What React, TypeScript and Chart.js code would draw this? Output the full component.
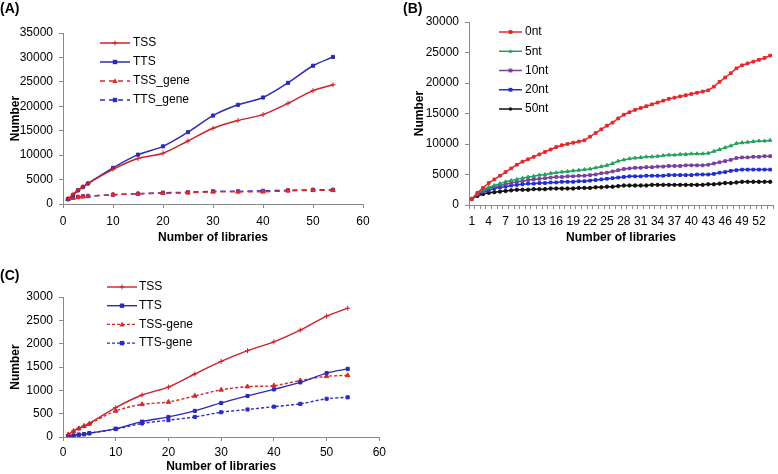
import React, { useEffect, useRef } from 'react';
import { Chart, registerables } from 'chart.js';

Chart.register(...registerables);

const FONT = "'Liberation Sans', Arial, Helvetica, sans-serif";

// ---------- Panel A ----------
const libsA = [1, 2, 3, 4, 5, 10, 15, 20, 25, 30, 35, 40, 45, 50, 54];
const aTSS = [1000, 2000, 2800, 3500, 4200, 7100, 9300, 10400, 12900, 15500, 17100, 18300, 20600, 23200, 24400];
const aTTS = [1000, 1800, 2800, 3500, 4200, 7400, 10100, 11800, 14700, 18100, 20300, 21800, 24800, 28300, 30100];
const aTSSgene = [1000, 1200, 1400, 1500, 1600, 1900, 2100, 2200, 2300, 2500, 2500, 2500, 2700, 2800, 2800];
const aTTSgene = [1000, 1300, 1400, 1600, 1600, 1900, 2100, 2300, 2400, 2600, 2600, 2700, 2800, 2900, 2900];

// ---------- Panel B ----------
const libsB = ['1', '2', '3', '4', '5', '6', '7', '8', '9', '10', '11', '12', '13', '14', '15', '16', '17', '18', '19', '20',
  '21', '22', '23', '24', '25', '26', '27', '28', '29', '30', '31', '32', '33', '34', '35', '36', '37', '38', '39', '40',
  '41', '42', '43', '44', '45', '46', '47', '48', '49', '50', '51', '52', '53', '54'];
const b0nt = [1000, 2000, 2800, 3600, 4200, 4800, 5400, 6000, 6600, 7100, 7500, 7900, 8300, 8700, 9100, 9500, 9800, 10000,
  10200, 10400, 10600, 11200, 11800, 12400, 13000, 13500, 14200, 14800, 15200, 15600, 15900, 16200, 16500, 16800, 17100,
  17400, 17600, 17800, 18000, 18200, 18400, 18600, 18800, 19400, 20200, 20900, 21600, 22400, 22900, 23200, 23500, 23800,
  24100, 24500];
const b5nt = [1000, 1900, 2500, 2900, 3200, 3500, 3800, 4000, 4200, 4400, 4600, 4700, 4900, 5000, 5200, 5300, 5400, 5500,
  5600, 5700, 5800, 5900, 6100, 6300, 6500, 6800, 7200, 7400, 7600, 7700, 7800, 7900, 7900, 8000, 8100, 8200, 8200, 8300,
  8300, 8400, 8400, 8400, 8500, 8800, 9100, 9400, 9700, 10100, 10200, 10300, 10400, 10500, 10500, 10600];
const b10nt = [1000, 1800, 2300, 2700, 3000, 3200, 3400, 3600, 3800, 3900, 4100, 4200, 4300, 4400, 4500, 4600, 4600, 4700,
  4700, 4800, 4800, 4900, 5000, 5200, 5300, 5500, 5700, 5900, 6000, 6100, 6100, 6200, 6200, 6300, 6300, 6400, 6400, 6400,
  6500, 6500, 6500, 6500, 6600, 6800, 7000, 7200, 7400, 7700, 7800, 7800, 7900, 7900, 8000, 8000];
const b20nt = [1000, 1700, 2100, 2400, 2700, 2900, 3000, 3200, 3300, 3400, 3500, 3500, 3600, 3600, 3700, 3700, 3800, 3800,
  3800, 3900, 3900, 4000, 4100, 4200, 4300, 4400, 4500, 4600, 4700, 4700, 4700, 4800, 4800, 4800, 4800, 4900, 4900, 4900,
  4900, 4900, 5000, 5000, 5000, 5100, 5300, 5400, 5600, 5700, 5800, 5800, 5800, 5800, 5800, 5800];
const b50nt = [1000, 1500, 1800, 2000, 2100, 2200, 2300, 2400, 2500, 2500, 2500, 2600, 2600, 2600, 2700, 2700, 2700, 2700,
  2700, 2800, 2800, 2800, 2900, 2900, 3000, 3000, 3100, 3200, 3200, 3200, 3200, 3200, 3300, 3300, 3300, 3300, 3300, 3300,
  3300, 3300, 3300, 3300, 3400, 3400, 3500, 3600, 3600, 3700, 3800, 3800, 3800, 3800, 3800, 3800];

// ---------- Panel C ----------
const libsC = [1, 2, 3, 4, 5, 10, 15, 20, 25, 30, 35, 40, 45, 50, 54];
const cTSS = [50, 130, 190, 240, 290, 630, 900, 1070, 1350, 1620, 1850, 2040, 2290, 2590, 2760];
const cTTS = [10, 30, 50, 60, 80, 180, 330, 430, 560, 730, 880, 1020, 1170, 1370, 1460];
const cTSSgene = [50, 120, 180, 230, 280, 560, 700, 750, 880, 1010, 1080, 1100, 1210, 1300, 1320];
const cTTSgene = [10, 30, 50, 60, 80, 170, 290, 360, 430, 530, 590, 650, 710, 820, 850];

const RED = '#CC2229';
const BLUE = '#2B2BB8';
const AXIS = '#8a8a8a';

function drawMarker(ctx: CanvasRenderingContext2D, style: string, r: number, x: number, y: number, color: string) {
  ctx.save();
  ctx.fillStyle = color;
  ctx.strokeStyle = color;
  ctx.lineWidth = 1;
  ctx.setLineDash([]);
  ctx.beginPath();
  if (style === 'rect') {
    ctx.rect(x - r, y - r, 2 * r, 2 * r);
    ctx.fill();
  } else if (style === 'triangle') {
    ctx.moveTo(x, y - r * 1.1);
    ctx.lineTo(x + r, y + r * 0.8);
    ctx.lineTo(x - r, y + r * 0.8);
    ctx.closePath();
    ctx.fill();
  } else if (style === 'cross') {
    ctx.moveTo(x - r, y);
    ctx.lineTo(x + r, y);
    ctx.moveTo(x, y - r);
    ctx.lineTo(x, y + r);
    ctx.stroke();
  } else {
    ctx.arc(x, y, r, 0, Math.PI * 2);
    ctx.fill();
  }
  ctx.restore();
}

const insideLegend = {
  id: 'insideLegend',
  afterDraw(chart: any, _args: any, opts: any) {
    const { ctx } = chart;
    ctx.save();
    chart.data.datasets.forEach((ds: any, i: number) => {
      const y = opts.y0 + i * opts.dy;
      ctx.strokeStyle = ds.borderColor;
      ctx.lineWidth = ds.borderWidth;
      ctx.setLineDash(ds.borderDash || []);
      ctx.beginPath();
      ctx.moveTo(opts.x1, y);
      ctx.lineTo(opts.x2, y);
      ctx.stroke();
      ctx.setLineDash([]);
      drawMarker(ctx, ds.pointStyle, ds.pointRadius, (opts.x1 + opts.x2) / 2, y, ds.borderColor);
      ctx.fillStyle = '#000';
      ctx.font = `12px ${FONT}`;
      ctx.textBaseline = 'middle';
      ctx.textAlign = 'left';
      ctx.fillText(ds.label, opts.tx, y);
    });
    ctx.restore();
  },
};

function line(label: string, xs: number[] | null, ys: number[], color: string, style: string, r: number, dash: number[], width: number, tension: number) {
  return {
    label,
    data: xs ? ys.map((v, i) => ({ x: xs[i], y: v })) : ys,
    borderColor: color,
    backgroundColor: color,
    pointBackgroundColor: color,
    pointBorderColor: color,
    borderWidth: width,
    borderDash: dash,
    pointStyle: style,
    pointRadius: r,
    pointBorderWidth: 1,
    tension,
    fill: false,
  };
}

const plain = (v: any) => String(v);

function yAxis(max: number, step: number, width: number, titlePad: number) {
  return {
    type: 'linear',
    min: 0,
    max,
    ticks: { stepSize: step, color: '#000', font: { size: 12, family: FONT }, padding: 6, callback: plain },
    grid: { display: true, drawOnChartArea: false, drawTicks: true, tickLength: 4, color: AXIS },
    border: { display: true, color: AXIS, width: 1 },
    title: { display: true, text: 'Number', color: '#000', font: { size: 12, weight: 'bold', family: FONT }, padding: { top: titlePad, bottom: 0 } },
    afterFit: (s: any) => { s.width = width; },
  };
}

function xLinear(height: number, tickPad: number, titlePad: number) {
  return {
    type: 'linear',
    min: 0,
    max: 60,
    ticks: { stepSize: 10, color: '#000', font: { size: 12, family: FONT }, padding: tickPad, maxRotation: 0, callback: plain },
    grid: { display: true, drawOnChartArea: false, drawTicks: true, tickLength: 4, color: AXIS },
    border: { display: true, color: AXIS, width: 1 },
    title: { display: true, text: 'Number of libraries', color: '#000', font: { size: 12, weight: 'bold', family: FONT }, padding: { top: 0, bottom: titlePad } },
    afterFit: (s: any) => { s.height = height; },
  };
}

function useChart(ref: React.RefObject<HTMLCanvasElement>, build: () => any) {
  useEffect(() => {
    if (!ref.current) return;
    const chart = new Chart(ref.current, build());
    return () => chart.destroy();
  }, []);
}

export default function App() {
  const refA = useRef<HTMLCanvasElement>(null);
  const refB = useRef<HTMLCanvasElement>(null);
  const refC = useRef<HTMLCanvasElement>(null);

  useChart(refA, () => ({
    type: 'line',
    data: {
      datasets: [
        line('TSS', libsA, aTSS, RED, 'cross', 2.5, [], 1.5, 0.3),
        line('TTS', libsA, aTTS, BLUE, 'rect', 2.2, [], 1.5, 0.3),
        line('TSS_gene', libsA, aTSSgene, '#DD2A2A', 'triangle', 2.6, [5, 4], 1.5, 0.3),
        line('TTS_gene', libsA, aTTSgene, '#2B2BC8', 'rect', 2.2, [5, 4], 1.5, 0.3),
      ],
    },
    options: {
      animation: false,
      responsive: false,
      layout: { padding: { top: 33, right: 27, left: 0, bottom: 0 } },
      plugins: {
        legend: { display: false },
        tooltip: { enabled: false },
        insideLegend: { x1: 100, x2: 130, tx: 133, y0: 43, dy: 19 },
      },
      scales: {
        x: xLinear(42, 6, 1),
        y: yAxis(35000, 5000, 63, 8),
      },
    },
    plugins: [insideLegend],
  }));

  useChart(refB, () => ({
    type: 'line',
    data: {
      labels: libsB,
      datasets: [
        line('0nt', null, b0nt, '#E8262A', 'rect', 1.9, [], 1.5, 0),
        line('5nt', null, b5nt, '#1FA35B', 'triangle', 2.0, [], 1.5, 0),
        line('10nt', null, b10nt, '#7B3FA0', 'rect', 1.9, [], 1.5, 0),
        line('20nt', null, b20nt, '#1F2FD6', 'rect', 1.9, [], 1.5, 0),
        line('50nt', null, b50nt, '#111111', 'circle', 1.7, [], 1.5, 0),
      ],
    },
    options: {
      animation: false,
      responsive: false,
      layout: { padding: { top: 22, right: 2, left: 0, bottom: 0 } },
      plugins: {
        legend: { display: false },
        tooltip: { enabled: false },
        insideLegend: { x1: 104, x2: 127, tx: 130, y0: 32, dy: 19.25 },
      },
      scales: {
        x: {
          type: 'category',
          offset: true,
          ticks: {
            autoSkip: false,
            maxRotation: 0,
            color: '#000',
            font: { size: 12, family: FONT },
            padding: 5,
            callback: (_v: any, i: number) => (i % 3 === 0 ? libsB[i] : ''),
          },
          grid: { display: true, offset: true, drawOnChartArea: false, drawTicks: true, tickLength: 4, color: AXIS },
          border: { display: true, color: AXIS, width: 1 },
          title: { display: true, text: 'Number of libraries', color: '#000', font: { size: 12, weight: 'bold', family: FONT }, padding: { top: 0, bottom: 1 } },
          afterFit: (s: any) => { s.height = 41; },
        },
        y: yAxis(30000, 5000, 74, 17),
      },
    },
    plugins: [insideLegend],
  }));

  useChart(refC, () => ({
    type: 'line',
    data: {
      datasets: [
        line('TSS', libsC, cTSS, RED, 'cross', 2.5, [], 1.4, 0.3),
        line('TTS', libsC, cTTS, BLUE, 'rect', 2.2, [], 1.4, 0.3),
        line('TSS-gene', libsC, cTSSgene, '#D42A2A', 'triangle', 2.6, [3, 2], 1.4, 0.3),
        line('TTS-gene', libsC, cTTSgene, '#2B2BC8', 'rect', 2.2, [3, 2], 1.4, 0.3),
      ],
    },
    options: {
      animation: false,
      responsive: false,
      layout: { padding: { top: 52, right: 9, left: 0, bottom: 0 } },
      plugins: {
        legend: { display: false },
        tooltip: { enabled: false },
        insideLegend: { x1: 107, x2: 137, tx: 139, y0: 42, dy: 18.7 },
      },
      scales: {
        x: xLinear(37, 4, 0),
        y: yAxis(3000, 500, 63, 8),
      },
    },
    plugins: [insideLegend],
  }));

  const panelLabel: React.CSSProperties = {
    position: 'absolute',
    fontFamily: FONT,
    fontWeight: 'bold',
    fontSize: 14,
    lineHeight: '16px',
    color: '#000',
  };

  return (
    <div style={{ position: 'absolute', left: 0, top: 0, width: 778, height: 474, background: '#fff', overflow: 'hidden' }}>
      <canvas ref={refA} width={390} height={246} style={{ position: 'absolute', left: 0, top: 0 }} />
      <canvas ref={refB} width={383} height={246} style={{ position: 'absolute', left: 395, top: 0 }} />
      <canvas ref={refC} width={390} height={229} style={{ position: 'absolute', left: 0, top: 245 }} />
      <div style={{ ...panelLabel, left: 0, top: 0 }}>(A)</div>
      <div style={{ ...panelLabel, left: 403, top: 0 }}>(B)</div>
      <div style={{ ...panelLabel, left: 0, top: 267 }}>(C)</div>
    </div>
  );
}
